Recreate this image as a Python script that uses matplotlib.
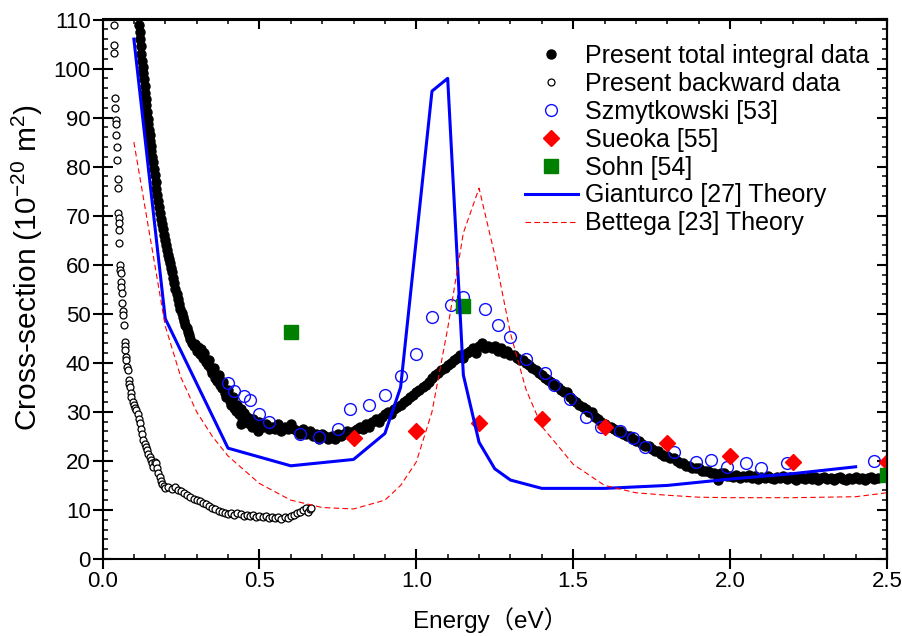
import numpy as np
import matplotlib
matplotlib.use("Agg")
import matplotlib.pyplot as plt
from matplotlib.ticker import MultipleLocator, NullFormatter

plt.rcParams['font.family'] = ['Liberation Sans', 'Noto Sans CJK SC', 'DejaVu Sans']
plt.rcParams['mathtext.fontset'] = 'custom'
plt.rcParams['mathtext.rm'] = 'Liberation Sans'

# present total integral data
ics_e = [0.116, 0.118, 0.120, 0.122, 0.124, 0.126, 0.128, 0.130, 0.132, 0.134,
         0.136, 0.138, 0.140, 0.142, 0.144, 0.146, 0.148, 0.150, 0.152, 0.154,
         0.156, 0.158, 0.160, 0.163, 0.166, 0.169, 0.172, 0.175, 0.178, 0.181,
         0.184, 0.187, 0.190, 0.193, 0.196, 0.199, 0.202, 0.205, 0.208, 0.211,
         0.214, 0.217, 0.220, 0.224, 0.228, 0.232, 0.236, 0.240, 0.244, 0.248,
         0.252, 0.256, 0.260, 0.264, 0.268, 0.272, 0.276, 0.280, 0.285, 0.290,
         0.295, 0.300, 0.305, 0.310, 0.315, 0.320, 0.325, 0.330, 0.335, 0.340,
         0.345, 0.350, 0.355, 0.360, 0.365, 0.370, 0.375, 0.380, 0.385, 0.390,
         0.395, 0.400, 0.405, 0.410, 0.415, 0.420, 0.425, 0.430, 0.435, 0.440,
         0.440, 0.445, 0.450, 0.455, 0.460, 0.465, 0.470, 0.475, 0.495,
         0.48, 0.49, 0.50, 0.51, 0.52, 0.53, 0.54, 0.55, 0.56, 0.57, 0.58, 0.59,
         0.60, 0.61, 0.62, 0.63, 0.64, 0.65, 0.66, 0.67, 0.68, 0.69, 0.70, 0.71,
         0.72, 0.73, 0.74, 0.75, 0.76, 0.77, 0.78, 0.79, 0.80, 0.81, 0.82, 0.83,
         0.84, 0.85, 0.86, 0.87, 0.88, 0.89, 0.90, 0.91, 0.92, 0.93, 0.94, 0.95,
         0.96, 0.97, 0.98, 0.99, 1.00, 1.01, 1.02, 1.03, 1.04, 1.05, 1.06, 1.07,
         1.08, 1.09, 1.10, 1.11, 1.12, 1.13, 1.14, 1.15, 1.16, 1.17, 1.18, 1.19,
         1.20, 1.21, 1.22, 1.23, 1.24, 1.25, 1.26, 1.27, 1.28, 1.29, 1.30, 1.31,
         1.32, 1.33, 1.34, 1.35, 1.36, 1.37, 1.38, 1.39, 1.40, 1.41, 1.42, 1.43,
         1.44, 1.45, 1.46, 1.47, 1.48, 1.49, 1.50, 1.51, 1.52, 1.53, 1.54, 1.55,
         1.56, 1.57, 1.58, 1.59, 1.60, 1.61, 1.62, 1.63, 1.64, 1.65, 1.66, 1.67,
         1.68, 1.69, 1.70, 1.71, 1.72, 1.73, 1.74, 1.75, 1.76, 1.77, 1.78, 1.79,
         1.80, 1.81, 1.82, 1.83, 1.84, 1.85, 1.86, 1.87, 1.88, 1.89, 1.90, 1.91,
         1.92, 1.93, 1.94, 1.95, 1.96, 1.97, 1.98, 1.99, 2.00, 2.01, 2.02, 2.03,
         2.04, 2.05, 2.06, 2.07, 2.08, 2.09, 2.10, 2.11, 2.12, 2.13, 2.14, 2.15,
         2.16, 2.17, 2.18, 2.19, 2.20, 2.21, 2.22, 2.23, 2.24, 2.25, 2.26, 2.27,
         2.28, 2.29, 2.30, 2.31, 2.32, 2.33, 2.34, 2.35, 2.36, 2.37, 2.38, 2.39,
         2.40, 2.41, 2.42, 2.43, 2.44, 2.45, 2.46, 2.47]
ics_y = [108.9, 107.5, 106.0, 104.5, 103.0, 101.5, 100.3, 99.0, 97.8, 96.5,
         95.0, 93.8, 92.5, 91.2, 89.8, 88.6, 87.5, 86.4, 85.2, 84.2,
         83.1, 82.0, 81.0, 79.6, 78.2, 76.8, 75.5, 74.2, 73.0, 71.8,
         70.6, 69.4, 68.3, 67.2, 66.1, 65.0, 64.0, 63.0, 62.0, 61.2,
         60.3, 59.4, 58.5, 57.3, 56.2, 55.1, 54.0, 53.0, 52.0, 51.0,
         50.2, 49.4, 48.6, 47.8, 47.0, 46.3, 45.6, 44.8, 44.0, 43.5,
         43.8, 42.5, 43.2, 41.8, 42.8, 41.0, 42.0, 40.2, 39.5, 40.5,
         38.8, 38.0, 39.0, 37.0, 36.2, 37.5, 35.5, 34.8, 36.0, 33.8,
         33.0, 34.5, 32.2, 31.5, 33.0, 30.8, 30.2, 31.5, 29.5, 30.5,
         27.5, 28.8, 29.8, 28.3, 29.0, 27.8, 28.6, 27.0, 26.0,
         28.5, 27.5, 28.0, 27.0, 27.5, 26.5, 27.0, 26.5, 27.5, 26.0, 27.0, 26.5,
         27.5, 26.5, 26.0, 25.5, 26.5, 25.5, 26.0, 25.0, 25.5, 24.5, 25.5, 25.0,
         24.5, 25.0, 24.5, 25.5, 25.0, 25.5, 26.0, 25.5, 26.0, 26.5, 27.0, 26.5,
         27.5, 27.0, 28.0, 28.5, 28.0, 29.0, 29.5, 30.0, 29.5, 30.5, 31.0, 31.5,
         32.0, 32.5, 33.0, 33.5, 34.0, 34.5, 35.0, 35.5, 36.0, 37.0, 37.5, 38.0,
         38.5, 39.0, 39.5, 40.0, 40.5, 41.0, 41.5, 41.0, 42.0, 42.5, 43.0, 42.0,
         43.5, 44.0, 43.0, 43.5, 43.0, 43.5, 42.5, 43.0, 42.0, 42.5, 41.5, 41.5,
         41.0, 40.5, 40.5, 40.0, 39.5, 39.0, 38.5, 38.0, 37.5, 37.0, 36.5, 36.0,
         35.5, 35.0, 34.5, 34.0, 34.0, 33.0, 32.5, 32.0, 31.5, 31.0, 30.5, 30.0,
         30.0, 29.0, 28.5, 28.0, 27.5, 27.0, 27.0, 26.5, 26.0, 26.0, 25.5, 25.0,
         25.0, 24.5, 24.0, 24.0, 23.5, 23.0, 23.0, 22.5, 22.0, 22.0, 21.5, 21.0,
         21.0, 20.5, 20.5, 20.0, 19.5, 19.5, 19.0, 19.0, 18.5, 18.5, 18.5, 18.0,
         18.0, 18.0, 17.5, 17.5, 16.2, 17.5, 17.5, 17.0, 17.0, 16.8, 17.2, 16.5,
         17.0, 16.8, 17.2, 16.6, 16.9, 16.4, 16.8, 16.5, 17.0, 16.6, 16.3, 16.8,
         16.5, 16.9, 16.4, 16.7, 16.5, 16.2, 16.8, 16.5, 16.3, 16.7, 16.4, 16.8,
         16.2, 16.5, 16.7, 16.3, 16.6, 16.2, 16.5, 16.8, 16.4, 16.1, 16.6, 16.3,
         16.7, 16.4, 16.6, 16.2, 16.5, 16.8, 16.4, 16.6]

# present backward data
bwd_e = [0.037, 0.037, 0.038, 0.040, 0.041, 0.043, 0.043, 0.044, 0.045, 0.045,
         0.048, 0.049, 0.050, 0.051, 0.052, 0.052, 0.053, 0.056, 0.057, 0.058,
         0.059, 0.060, 0.061, 0.063, 0.064, 0.065, 0.067, 0.071, 0.072, 0.073,
         0.074, 0.075, 0.078, 0.082, 0.084, 0.086, 0.088, 0.090, 0.092, 0.096,
         0.100, 0.104, 0.108, 0.112, 0.116, 0.118, 0.122, 0.126, 0.130, 0.134,
         0.138, 0.142, 0.146, 0.150, 0.154, 0.158, 0.162, 0.166, 0.170, 0.174,
         0.178, 0.182, 0.186, 0.190, 0.195, 0.200, 0.21, 0.22, 0.23, 0.24,
         0.25, 0.26, 0.27, 0.28, 0.29, 0.30, 0.31, 0.32, 0.33, 0.34,
         0.35, 0.36, 0.37, 0.38, 0.39, 0.40, 0.41, 0.42, 0.43, 0.44,
         0.45, 0.46, 0.47, 0.48, 0.49, 0.50, 0.51, 0.52, 0.53, 0.54,
         0.55, 0.56, 0.57, 0.58, 0.59, 0.60, 0.61, 0.62, 0.63, 0.64,
         0.65, 0.655, 0.66, 0.665]
bwd_y = [108.9, 104.8, 103.2, 94.0, 92.0, 89.5, 88.6, 86.4, 84.0, 81.3,
         77.5, 75.6, 70.5, 69.5, 68.5, 67.1, 64.4, 60.0, 59.0, 58.3,
         56.5, 55.5, 54.2, 52.2, 50.5, 49.7, 47.7, 44.3, 43.5, 42.6,
         41.2, 40.5, 39.2, 38.5, 36.5, 35.6, 35.1, 33.8, 33.1, 32.0,
         31.4, 30.8, 30.4, 29.5, 28.6, 27.7, 26.5, 25.5, 24.3, 23.5,
         22.8, 22.2, 21.4, 20.8, 20.2, 19.5, 18.8, 19.8, 19.5, 18.5,
         17.5, 16.8, 16.0, 15.3, 14.8, 14.5, 14.7, 14.3, 14.6, 14.0,
         13.8, 13.4, 13.0, 12.6, 12.3, 12.0, 11.8, 11.5, 11.2, 10.8,
         10.5, 10.2, 9.8, 9.6, 9.3, 9.2, 9.4, 9.0, 9.3, 9.1,
         8.8, 9.0, 8.7, 8.9, 8.6, 8.8, 8.5, 8.7, 8.4, 8.6,
         8.3, 8.5, 8.2, 8.6, 8.4, 8.8, 9.0, 9.3, 9.6, 10.0,
         10.4, 9.5, 10.2, 10.5]

# Szmytkowski [53]
szm_e = [0.40, 0.42, 0.45, 0.47, 0.50, 0.53, 0.63, 0.69, 0.75, 0.79, 0.85,
         0.90, 0.95, 1.00, 1.05, 1.11, 1.15, 1.22, 1.26, 1.30, 1.35, 1.41,
         1.44, 1.49, 1.54, 1.59, 1.65, 1.69, 1.73, 1.82, 1.89, 1.94, 1.99,
         2.05, 2.10, 2.18, 2.46]
szm_y = [35.8, 34.3, 33.2, 32.4, 29.5, 28.0, 25.4, 24.9, 26.6, 30.5, 31.5,
         33.4, 37.4, 41.8, 49.3, 51.7, 53.5, 50.9, 47.7, 45.3, 40.7, 37.9,
         35.5, 32.6, 29.0, 27.0, 26.0, 24.6, 22.9, 21.9, 19.8, 20.2, 18.7,
         19.6, 18.6, 19.5, 20.0]

# Sueoka [55]
sue_e = [0.8, 1.0, 1.2, 1.4, 1.6, 1.8, 2.0, 2.2, 2.5]
sue_y = [24.7, 26.2, 27.7, 28.5, 27.0, 23.7, 21.1, 19.7, 19.7]

# Sohn [54]
sohn_e = [0.6, 1.15, 2.5]
sohn_y = [46.2, 51.6, 17.1]

# Gianturco [27] theory
gia_e = [0.1, 0.2, 0.4, 0.6, 0.8, 0.9, 0.95, 1.05, 1.1, 1.15, 1.2, 1.25,
         1.3, 1.4, 1.6, 1.8, 2.0, 2.2, 2.4]
gia_y = [106.0, 49.0, 22.6, 19.0, 20.3, 25.6, 35.0, 95.4, 98.0, 37.5, 23.8,
         18.4, 16.1, 14.4, 14.4, 15.0, 16.3, 17.4, 18.8]

# Bettega [23] theory
bet_e = [0.1, 0.2, 0.25, 0.3, 0.35, 0.4, 0.5, 0.6, 0.7, 0.8, 0.9, 0.95,
         1.0, 1.05, 1.1, 1.15, 1.2, 1.25, 1.3, 1.35, 1.4, 1.45, 1.5, 1.6,
         1.7, 1.8, 1.9, 2.0, 2.2, 2.4, 2.5]
bet_y = [85.0, 47.5, 37.0, 30.0, 25.0, 21.0, 15.4, 12.0, 10.5, 10.2, 12.0, 15.0,
         19.8, 30.0, 47.0, 66.5, 75.6, 62.0, 46.0, 34.5, 27.0, 23.2, 19.3, 15.0,
         13.5, 13.0, 12.6, 12.5, 12.5, 12.7, 13.5]

fig = plt.figure(figsize=(9.02, 6.36), dpi=100)
ax = fig.add_axes([102.5 / 902, 1 - 559 / 636, (887 - 102.5) / 902, (559 - 19.5) / 636])

ax.plot(ics_e, ics_y, 'o', color='black', ms=6.5, mec='black', label='Present total integral data')
ax.plot(bwd_e, bwd_y, 'o', mfc='white', mec='black', ms=5, mew=0.9, label='Present backward data')
ax.plot(szm_e, szm_y, 'o', mfc='none', mec='#1010ff', ms=8.5, mew=1.0, label='Szmytkowski [53]')
ax.plot(sue_e, sue_y, 'D', color='red', ms=8, label='Sueoka [55]')
ax.plot(sohn_e, sohn_y, 's', color='#008000', ms=10, label='Sohn [54]')
ax.plot(gia_e, gia_y, '-', color='blue', lw=2.2, label='Gianturco [27] Theory')
ax.plot(bet_e, bet_y, '--', color='red', lw=0.8, dashes=(5, 3), label='Bettega [23] Theory')

ax.set_xlim(0, 2.5)
ax.set_ylim(0, 110)
ax.xaxis.set_major_locator(MultipleLocator(0.5))
ax.xaxis.set_minor_locator(MultipleLocator(0.1))
ax.yaxis.set_major_locator(MultipleLocator(10))
ax.yaxis.set_minor_locator(MultipleLocator(2))
ax.xaxis.set_major_formatter(plt.FuncFormatter(lambda v, p: '%.1f' % v))

for s in ax.spines.values():
    s.set_linewidth(1.5)
ax.tick_params(which='major', direction='inout', length=15, width=1.5, labelsize=16, pad=1)
ax.tick_params(which='minor', direction='in', length=3.6, width=1.1)

# top and right ticks point inward only
top = ax.secondary_xaxis('top')
top.xaxis.set_major_locator(MultipleLocator(0.5))
top.xaxis.set_minor_locator(MultipleLocator(0.1))
top.xaxis.set_major_formatter(NullFormatter())
top.tick_params(which='major', direction='in', length=7.5, width=1.5)
top.tick_params(which='minor', direction='in', length=3.6, width=1.1)
top.spines['top'].set_linewidth(1.5)
right = ax.secondary_yaxis('right')
right.yaxis.set_major_locator(MultipleLocator(10))
right.yaxis.set_minor_locator(MultipleLocator(2))
right.yaxis.set_major_formatter(NullFormatter())
right.tick_params(which='major', direction='in', length=7.5, width=1.5)
right.tick_params(which='minor', direction='in', length=3.6, width=1.1)
right.spines['right'].set_linewidth(1.5)

ax.set_xlabel('Energy（eV）', fontsize=17.5)
ax.xaxis.set_label_coords(0.494, -0.090)
ax.xaxis.label.set_va('top')
ax.set_ylabel('Cross-section (10$^{-20}$ m$^{2}$)', fontsize=21.5)
ax.yaxis.set_label_coords(-0.073, 0.54)

ax.legend(loc='upper left', bbox_to_anchor=(525 / 902, 1 - 44 / 636),
          bbox_transform=fig.transFigure, frameon=False, fontsize=18,
          handlelength=2.1, handletextpad=0.3, labelspacing=0.155,
          borderpad=0, borderaxespad=0)

fig.savefig('out.png', dpi=100)
